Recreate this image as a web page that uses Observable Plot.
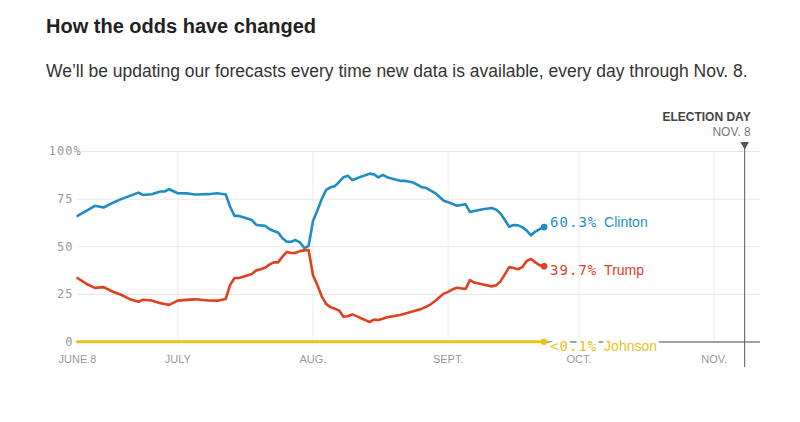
<!DOCTYPE html>
<html><head><meta charset="utf-8">
<script src="https://cdn.jsdelivr.net/npm/d3@7"></script>
<script src="https://cdn.jsdelivr.net/npm/@observablehq/plot@0.6"></script>
<style>
body{margin:0;background:#fff;width:800px;height:422px;overflow:hidden;position:relative;font-family:"Liberation Sans",Arial,sans-serif;}
#title{position:absolute;left:46px;top:15px;font-weight:bold;font-size:20px;color:#222;white-space:nowrap;}
#sub{position:absolute;left:46px;top:61px;font-size:17.5px;color:#333;white-space:nowrap;}
#chart{position:absolute;left:0;top:100px;}
</style></head><body>
<div id="title">How the odds have changed</div>
<div id="sub">We’ll be updating our forecasts every time new data is available, every day through Nov. 8.</div>
<div id="chart"></div>
<script>
const dates = ["2016-06-08","2016-06-10","2016-06-12","2016-06-14","2016-06-16","2016-06-18","2016-06-20","2016-06-22","2016-06-23","2016-06-25","2016-06-27","2016-06-28","2016-06-29","2016-07-01","2016-07-03","2016-07-05","2016-07-08","2016-07-10","2016-07-12","2016-07-13","2016-07-14","2016-07-15","2016-07-16","2016-07-18","2016-07-19","2016-07-20","2016-07-21","2016-07-22","2016-07-23","2016-07-24","2016-07-25","2016-07-26","2016-07-27","2016-07-28","2016-07-29","2016-07-30","2016-07-31","2016-08-01","2016-08-02","2016-08-03","2016-08-04","2016-08-05","2016-08-06","2016-08-07","2016-08-08","2016-08-09","2016-08-10","2016-08-11","2016-08-12","2016-08-13","2016-08-14","2016-08-15","2016-08-16","2016-08-17","2016-08-18","2016-08-19","2016-08-21","2016-08-22","2016-08-24","2016-08-25","2016-08-26","2016-08-27","2016-08-28","2016-08-29","2016-08-31","2016-09-01","2016-09-02","2016-09-03","2016-09-05","2016-09-06","2016-09-07","2016-09-09","2016-09-11","2016-09-12","2016-09-13","2016-09-14","2016-09-15","2016-09-16","2016-09-17","2016-09-18","2016-09-19","2016-09-20","2016-09-21","2016-09-22","2016-09-23"];
const clinton = [66.2,68.8,71.5,70.6,73.0,75.0,76.7,78.4,77.2,77.6,79.0,79.0,80.2,78.1,78.0,77.4,77.6,78.1,77.4,71.0,66.2,66.2,65.5,64.0,61.5,61.2,61.0,59.3,58.3,57.5,54.5,52.6,52.6,53.5,52.3,49.3,50.5,63.5,69.0,75.0,79.8,81.2,81.8,84.0,86.5,87.3,85.0,85.8,86.8,87.5,88.4,88.0,86.4,87.7,86.5,85.8,84.6,84.6,83.7,82.5,81.2,80.8,79.5,78.2,74.1,73.4,72.5,71.5,72.3,68.2,68.8,69.7,70.3,69.5,67.5,64.0,60.5,61.4,61.2,60.3,58.5,56.0,58.0,59.3,60.3];
const trump = [33.6,30.6,28.4,28.8,26.5,24.8,22.5,21.1,22.2,21.8,20.4,19.9,19.5,21.7,22.1,22.4,21.8,21.7,22.6,30.0,33.6,33.6,34.3,35.7,37.6,38.2,39.0,40.6,41.8,41.8,44.8,47.3,46.7,46.8,47.7,48.1,48.3,35.0,30.0,24.0,20.0,18.3,17.5,16.5,13.3,13.5,14.5,13.6,12.5,11.5,10.5,11.8,11.5,12.2,13.0,13.4,14.2,14.8,16.1,16.8,17.5,18.6,19.8,21.5,25.4,26.3,27.6,28.5,27.8,32.5,31.2,30.2,29.2,29.8,31.8,35.5,39.3,38.8,38.2,39.3,42.5,43.6,41.8,40.3,39.7];
const johnsonDates = ["2016-06-08","2016-07-01","2016-08-01","2016-09-01","2016-09-23"];
const johnson = [0.1,0.1,0.1,0.1,0.1];
const tickDates = ["2016-06-08","2016-07-01","2016-08-01","2016-09-01","2016-10-01","2016-11-01"];
const tickLabels = ["JUNE 8","JULY","AUG.","SEPT.","OCT.","NOV."];
const yTicks = [0,25,50,75,100];
const electionDate = "2016-11-08";
const labels = {clinton:"Clinton", trump:"Trump", johnson:"Johnson"};
const johnsonText = "<0.1%";

const blue = "#1f8dc4", red = "#e0401f", yellow = "#e9c31b";
const parse = d3.utcParse("%Y-%m-%d");
const rows = dates.map((d,i)=>({date:parse(d), clinton:clinton[i], trump:trump[i]}));
const jrows = johnsonDates.map((d,i)=>({date:parse(d), v:johnson[i]}));
const ticks = tickDates.map(parse);
const labelMap = new Map(ticks.map((t,i)=>[+t, tickLabels[i]]));
const last = rows[rows.length-1];
const jlast = jrows[jrows.length-1];
const eDay = parse(electionDate);
const mono = "DejaVu Sans Mono";

const chart = Plot.plot({
  width:800, height:322, marginLeft:77, marginRight:40, marginTop:51, marginBottom:80.5,
  x:{type:"utc", domain:[parse("2016-06-08"), new Date(Date.UTC(2016,10,11,15))]},
  y:{domain:[0,100]},
  style:{fontFamily:"Liberation Sans, Arial, sans-serif", background:"white", overflow:"visible"},
  marks:[
    Plot.gridX(ticks.slice(1), {stroke:"#eeeeee", strokeOpacity:1}),
    Plot.gridY(yTicks.slice(1), {stroke:"#e6e6e6", strokeOpacity:1}),
    Plot.axisY(yTicks, {tickSize:0, tickPadding:4, tickFormat:d=>String(d), fill:"#999", fontFamily:mono, fontSize:12, label:null}),
    Plot.text([100], {y:d=>d, frameAnchor:"left", dx:-4, textAnchor:"start", text:()=>"%", fill:"#999", fontFamily:mono, fontSize:12}),
    Plot.axisX(ticks, {tickSize:0, tickPadding:13, tickFormat:d=>labelMap.get(+d), fill:"#999", fontSize:11, label:null}),
    Plot.ruleY([0], {stroke:"#444"}),
    Plot.ruleX([eDay], {stroke:"#555", insetTop:-4, insetBottom:-25.5}),
    Plot.dot([eDay], {x:d=>d, y:()=>100, symbol:"triangle", rotate:180, r:3.2, fill:"#555", stroke:null, dy:-7}),
    Plot.text([eDay], {x:d=>d, frameAnchor:"top", dy:-39, dx:6, textAnchor:"end", text:()=>"ELECTION DAY", fontWeight:"bold", fontSize:12, fill:"#444"}),
    Plot.text([eDay], {x:d=>d, frameAnchor:"top", dy:-24, dx:6, textAnchor:"end", text:()=>"NOV. 8", fontSize:12, fill:"#777"}),
    Plot.line(jrows, {x:"date", y:"v", stroke:yellow, strokeWidth:3}),
    Plot.line(rows, {x:"date", y:"trump", stroke:red, strokeWidth:2.6}),
    Plot.line(rows, {x:"date", y:"clinton", stroke:blue, strokeWidth:2.6}),
    Plot.dot([last], {x:"date", y:"clinton", r:3.3, fill:blue}),
    Plot.dot([last], {x:"date", y:"trump", r:3.3, fill:red}),
    Plot.dot([jlast], {x:"date", y:"v", r:3.3, fill:yellow}),
    Plot.text([last], {x:"date", y:"clinton", text:d=>d.clinton.toFixed(1)+"%", dx:6, dy:-4.5, textAnchor:"start", fill:blue, fontFamily:mono, fontSize:14}),
    Plot.text([last], {x:"date", y:"clinton", text:()=>labels.clinton, dx:60, dy:-4.5, textAnchor:"start", fill:blue, fontSize:14}),
    Plot.text([last], {x:"date", y:"trump", text:d=>d.trump.toFixed(1)+"%", dx:6, dy:4.5, textAnchor:"start", fill:red, fontFamily:mono, fontSize:14}),
    Plot.text([last], {x:"date", y:"trump", text:()=>labels.trump, dx:60, dy:4.5, textAnchor:"start", fill:red, fontSize:14}),
    Plot.text([jlast], {x:"date", y:"v", text:()=>johnsonText, dx:6, dy:5, textAnchor:"start", fill:yellow, stroke:"white", strokeWidth:7, fontFamily:mono, fontSize:14}),
    Plot.text([jlast], {x:"date", y:"v", text:()=>labels.johnson, dx:60, dy:5, textAnchor:"start", fill:yellow, stroke:"white", strokeWidth:7, fontSize:14})
  ]
});
document.getElementById("chart").appendChild(chart);
d3.select(chart).selectAll('g[font-family="DejaVu Sans Mono"]').attr("letter-spacing","1px");
</script>
</body></html>
